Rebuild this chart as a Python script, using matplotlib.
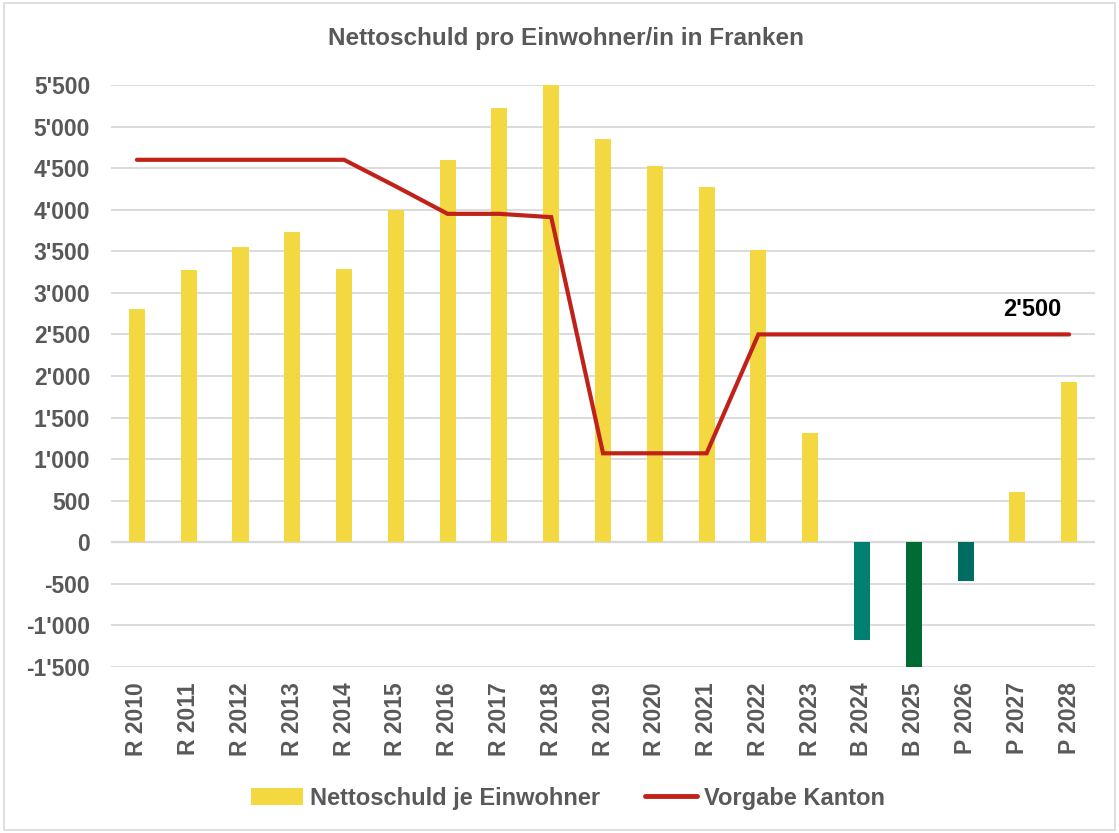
import matplotlib
matplotlib.use("Agg")
import matplotlib.pyplot as plt
from matplotlib.patches import Rectangle, Patch
from matplotlib.lines import Line2D
import numpy as np

plt.rcParams["font.family"] = ["Liberation Sans", "DejaVu Sans"]
plt.rcParams["font.weight"] = "bold"

jahre = ["R 2010", "R 2011", "R 2012", "R 2013", "R 2014", "R 2015", "R 2016",
         "R 2017", "R 2018", "R 2019", "R 2020", "R 2021", "R 2022", "R 2023",
         "B 2024", "B 2025", "P 2026", "P 2027", "P 2028"]
nettoschuld = [2800, 3270, 3550, 3730, 3290, 4000, 4600, 5220, 5500, 4850,
               4530, 4270, 3510, 1320, -1170, -1540, -470, 600, 1930]
vorgabe = [4600, 4600, 4600, 4600, 4600, 4280, 3950, 3950, 3910, 1070,
           1070, 1070, 2500, 2500, 2500, 2500, 2500, 2500, 2500]

gelb = "#F4D842"
bar_farben = [gelb] * 14 + ["#007F73", "#006B33", "#006D63", gelb, gelb]
grau = "#595959"
rot = "#C0221A"

fig = plt.figure(figsize=(11.19, 8.33), dpi=100)
ax = fig.add_axes([0.0992, 0.1993, 0.8794, 0.6987])

x = np.arange(len(jahre))
ax.bar(x, nettoschuld, width=0.31, color=bar_farben, zorder=2)
ax.plot(x, vorgabe, color=rot, lw=3, solid_capstyle="round",
        solid_joinstyle="miter", zorder=3)

ax.set_xlim(-0.5, len(jahre) - 0.5)
ax.set_ylim(-1500, 5500)
yt = np.arange(-1500, 5501, 500)
ax.set_yticks(yt)
ax.set_yticklabels([f"{v:,}".replace(",", "'") for v in yt])
ax.set_xticks(x)
ax.set_xticklabels(jahre, rotation=90)
ax.tick_params(axis="both", length=0, labelsize=16.5, colors=grau)
ax.tick_params(axis="y", pad=15)
ax.tick_params(axis="x", pad=11)
for lab in ax.get_xticklabels() + ax.get_yticklabels():
    lab.set_fontweight("bold")

ax.grid(axis="y", color="#D9D9D9", lw=1.3, zorder=0)
ax.axhline(0, color="#D0D0D0", lw=1.6, zorder=1)
for s in ax.spines.values():
    s.set_visible(False)

ax.text(len(jahre) - 1.72, 2500 + 160, "2'500", fontsize=17, fontweight="bold",
        color="black", ha="center", va="bottom")

fig.text(0.506, 0.954, "Nettoschuld pro Einwohner/in in Franken", ha="center",
         va="center", fontsize=17.5, fontweight="bold", color=grau)

handles = [Patch(facecolor=gelb, edgecolor="none"),
           Line2D([0], [0], color=rot, lw=3.5, solid_capstyle="round")]
leg = fig.legend(handles, ["Nettoschuld je Einwohner", "Vorgabe Kanton"],
                 loc="center", bbox_to_anchor=(0.508, 0.042), ncol=2,
                 frameon=False, fontsize=17, handlelength=2.2, columnspacing=1.9,
                 handletextpad=0.3)
for t in leg.get_texts():
    t.set_color(grau)
    t.set_fontweight("bold")

fig.add_artist(Rectangle((0.004, 0.004), 0.992, 0.992, transform=fig.transFigure,
                         fill=False, edgecolor="#D9D9D9", lw=1.2))

fig.savefig("out.png", dpi=100)
